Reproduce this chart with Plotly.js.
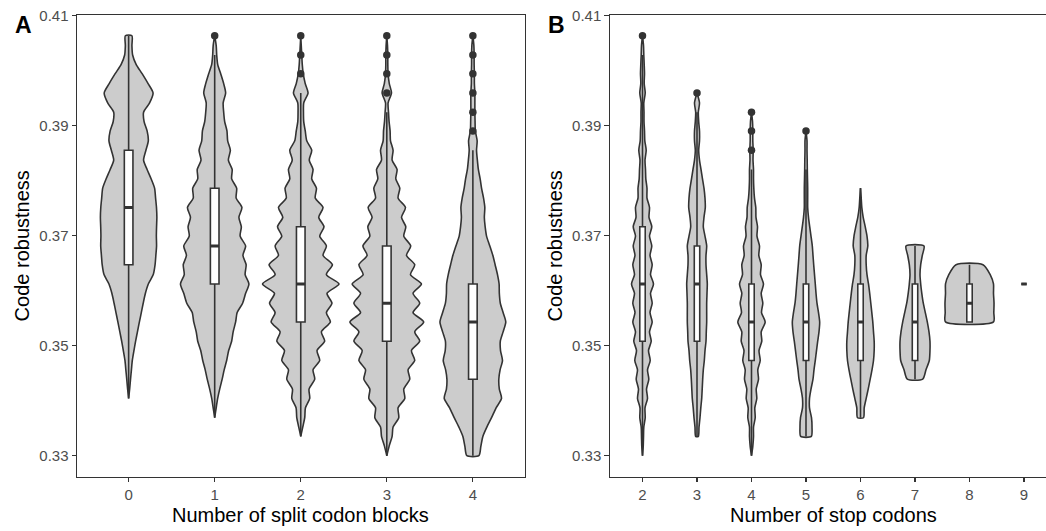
<!DOCTYPE html>
<html><head><meta charset="utf-8">
<script src="https://cdn.plot.ly/plotly-3.0.1.min.js"></script>
<style>html,body{margin:0;padding:0;overflow:hidden;background:#fff;} #chart{width:1060px;height:531px;}</style>
</head><body><div id="chart"></div><script>
// discrete robustness levels (grid values and midpoints), top to bottom
const levels = [0.4063,0.4045,0.4028,0.4011,0.3994,0.3976,0.3959,0.3941,0.3924,0.3907,0.3890,0.3872,0.3855,0.3837,0.3820,0.3803,0.3786,0.3768,0.3751,0.3733,0.3716,0.3699,0.3681,0.3664,0.3647,0.3629,0.3612,0.3595,0.3577,0.3560,0.3543,0.3525,0.3508,0.3491,0.3473,0.3456,0.3439,0.3421,0.3404,0.3387,0.3369,0.3352,0.3335,0.3317,0.3300];

// Panel A: number of split codon blocks
const catsA = [0,1,2,3,4];
const tickTextA = ['0','1','2','3','4'];
const violinTopA = [0.4063,0.4063,0.4063,0.4063,0.4063];
const densA0 = [0.085,0.085,0.103,0.193,0.348,0.502,0.631,0.541,0.386,0.399,0.477,0.508,0.446,0.386,0.477,0.580,0.670,0.696,0.719,0.729,0.721,0.716,0.721,0.703,0.683,0.636,0.508,0.433,0.376,0.327,0.278,0.227,0.180,0.137,0.095,0.072,0.049,0.026,0];
const densA1 = [0,0.039,0.052,0.077,0.155,0.232,0.283,0.219,0.232,0.258,0.317,0.335,0.405,0.353,0.451,0.438,0.567,0.554,0.703,0.626,0.688,0.657,0.799,0.729,0.812,0.786,0.884,0.799,0.721,0.580,0.541,0.477,0.438,0.361,0.309,0.245,0.193,0.129,0.077,0.039,0];
const densA2 = [0,0.013,0.026,0.039,0.064,0.116,0.188,0.077,0.070,0.077,0.116,0.155,0.283,0.219,0.317,0.283,0.405,0.374,0.575,0.464,0.600,0.490,0.662,0.575,0.817,0.662,0.987,0.678,0.806,0.662,0.765,0.533,0.618,0.420,0.490,0.317,0.361,0.214,0.232,0.121,0.103,0.052,0];
const densA3 = [0,0.018,0.026,0.026,0.033,0.064,0.121,0.033,0.044,0.059,0.085,0.095,0.162,0.137,0.265,0.232,0.335,0.291,0.482,0.379,0.490,0.438,0.618,0.508,0.721,0.611,0.894,0.678,0.850,0.678,0.953,0.721,0.850,0.636,0.721,0.549,0.593,0.438,0.464,0.291,0.309,0.162,0.137,0.059,0];
const densA4 = [0,0.026,0.033,0.033,0.039,0.039,0.052,0.052,0.052,0.057,0.064,0.111,0.095,0.116,0.142,0.188,0.224,0.276,0.309,0.296,0.317,0.353,0.438,0.515,0.575,0.636,0.678,0.683,0.709,0.781,0.850,0.781,0.709,0.714,0.765,0.703,0.670,0.683,0.740,0.600,0.482,0.361,0.258,0.206,0.155];
const q1A = [0.3647,0.3612,0.3543,0.3508,0.3439];
const medA = [0.3751,0.3681,0.3612,0.3577,0.3543];
const q3A = [0.3855,0.3786,0.3716,0.3681,0.3612];
const loA = [0.3404,0.3369,0.3335,0.3300,0.3300];
const hiA = [0.4063,0.4028,0.3959,0.3924,0.3855];
const outCatA = [1,2,2,2,3,3,3,3,4,4,4,4,4,4];
const outValA = [0.4063,0.4063,0.4028,0.3994,0.4063,0.4028,0.3994,0.3959,0.4063,0.4028,0.3994,0.3959,0.3924,0.3890];

// Panel B: number of stop codons
const catsB = [2,3,4,5,6,7,8,9];
const tickTextB = ['2','3','4','5','6','7','8','9'];
const violinCatB = [2,3,4,5,6,7,8];
const violinTopB = [0.4063,0.3959,0.3924,0.3890,0.3786,0.3681,0.3647];
const densB2 = [0,0.041,0.053,0.069,0.082,0.069,0.110,0.053,0.061,0.061,0.082,0.094,0.151,0.102,0.122,0.135,0.183,0.183,0.285,0.265,0.379,0.285,0.379,0.306,0.395,0.326,0.448,0.326,0.395,0.306,0.395,0.285,0.355,0.245,0.314,0.204,0.257,0.163,0.204,0.102,0.110,0.053,0.041,0.029,0];
const densB3 = [0,0.102,0.053,0.069,0.102,0.102,0.069,0.102,0.163,0.224,0.285,0.326,0.338,0.285,0.257,0.326,0.395,0.367,0.367,0.395,0.420,0.408,0.395,0.395,0.395,0.379,0.367,0.326,0.298,0.257,0.232,0.212,0.192,0.155,0.122,0.082,0.053];
const densB4 = [0,0.041,0.053,0.053,0.069,0.061,0.082,0.082,0.094,0.122,0.175,0.183,0.245,0.224,0.326,0.298,0.395,0.367,0.489,0.395,0.461,0.408,0.558,0.395,0.420,0.306,0.355,0.257,0.285,0.192,0.216,0.135,0.151,0.082,0.082,0.053,0];
const densB5 = [0,0.041,0.041,0.049,0.053,0.061,0.069,0.069,0.069,0.102,0.151,0.204,0.257,0.285,0.314,0.347,0.379,0.408,0.448,0.510,0.558,0.530,0.477,0.428,0.379,0.326,0.285,0.204,0.143,0.143,0.224,0.245,0.216];
const densB6 = [0,0.029,0.053,0.110,0.192,0.265,0.298,0.232,0.232,0.265,0.326,0.375,0.420,0.461,0.501,0.530,0.558,0.558,0.530,0.469,0.395,0.314,0.232,0.151,0.122];
const densB7 = [0.367,0.298,0.232,0.204,0.232,0.277,0.338,0.420,0.501,0.571,0.611,0.611,0.583,0.448,0.314];
const densB8 = [0.550,0.844,0.978,0.978,1.0,0.991,0.978];
const q1B = [0.3508,0.3508,0.3473,0.3473,0.3473,0.3473,0.3543,0.3612];
const medB = [0.3612,0.3612,0.3543,0.3543,0.3543,0.3543,0.3577,0.3612];
const q3B = [0.3716,0.3681,0.3612,0.3612,0.3612,0.3612,0.3612,0.3612];
const loB = [0.3300,0.3335,0.3300,0.3335,0.3369,0.3439,0.3543,0.3612];
const hiB = [0.4028,0.3924,0.3820,0.3820,0.3786,0.3681,0.3647,0.3612];
const outCatB = [2,3,4,4,4,5];
const outValB = [0.4063,0.3959,0.3924,0.3890,0.3855,0.3890];

const yTickVals = [0.33,0.35,0.37,0.39,0.41];
const yTickText = ['0.33','0.35','0.37','0.39','0.41'];

// styles
const VIOLIN_HALF = 0.45, BOX_W = 0.1;
const DARK = '#333333', FILL = '#cccccc';
const W = 1060, H = 531;
const Y_RANGE = [0.326185, 0.410115];
const XA_RANGE = [-0.6, 4.6], XB_RANGE = [1.4, 9.6];

function violin(xa, ya, cat, top, dens) {
  const i0 = levels.indexOf(top);
  const ys = dens.map((_, j) => levels[i0 + j]);
  const right = dens.map(d => cat + VIOLIN_HALF * d);
  const left = dens.map(d => cat - VIOLIN_HALF * d).reverse();
  const x = right.concat(left); x.push(x[0]);
  const y = ys.concat(ys.slice().reverse()); y.push(y[0]);
  return {type:'scatter', mode:'lines', x:x, y:y, xaxis:xa, yaxis:ya, fill:'toself', fillcolor:FILL,
    line:{color:DARK, width:1.6, shape:'spline', smoothing:0.7}, hoverinfo:'skip', showlegend:false};
}
function boxes(xa, ya, cats, q1, med, q3, lo, hi) {
  return {type:'box', orientation:'v', x:cats, q1:q1, median:med, q3:q3, lowerfence:lo, upperfence:hi, xaxis:xa, yaxis:ya,
    width:BOX_W, whiskerwidth:0, boxpoints:false, fillcolor:'#ffffff', line:{color:DARK, width:1.6},
    hoverinfo:'skip', showlegend:false};
}
function medians(xa, ya, cats, med) {
  const x = [], y = [];
  cats.forEach((c, i) => { x.push(c - BOX_W/2, c + BOX_W/2, null); y.push(med[i], med[i], null); });
  return {type:'scatter', mode:'lines', x:x, y:y, xaxis:xa, yaxis:ya, line:{color:DARK, width:3},
    hoverinfo:'skip', showlegend:false};
}
function outliers(xa, ya, cats, vals) {
  return {type:'scatter', mode:'markers', x:cats, y:vals, xaxis:xa, yaxis:ya,
    marker:{color:DARK, size:7.5}, hoverinfo:'skip', showlegend:false};
}

const densA = [densA0, densA1, densA2, densA3, densA4];
const densB = [densB2, densB3, densB4, densB5, densB6, densB7, densB8];
const traces = [];
catsA.forEach((c, i) => traces.push(violin('x', 'y', c, violinTopA[i], densA[i])));
violinCatB.forEach((c, i) => traces.push(violin('x2', 'y2', c, violinTopB[i], densB[i])));
// boxes, medians and outliers on overlay axes so they sit above the violins
traces.push(boxes('x3', 'y3', catsA, q1A, medA, q3A, loA, hiA));
traces.push(boxes('x4', 'y4', catsB, q1B, medB, q3B, loB, hiB));
traces.push(medians('x3', 'y3', catsA, medA));
traces.push(medians('x4', 'y4', catsB, medB));
traces.push(outliers('x3', 'y3', outCatA, outValA));
traces.push(outliers('x4', 'y4', outCatB, outValB));

const FONT = 'Liberation Sans, Arial, sans-serif';
const tickFont = {family:FONT, size:15, color:'#4d4d4d'};
function xAxis(dom, range, vals, text, anchor) {
  return {domain:dom, range:range, tickvals:vals, ticktext:text, ticks:'outside', ticklen:4.5, tickwidth:1.1,
    tickcolor:DARK, showline:true, mirror:true, linecolor:DARK, linewidth:1, showgrid:false, zeroline:false,
    tickfont:tickFont, anchor:anchor, automargin:false, fixedrange:true};
}
function yAxis(anchor) {
  return {domain:[54.3/H, 516.3/H], range:Y_RANGE, tickvals:yTickVals, ticktext:yTickText,
    ticks:'outside', ticklen:4.5, tickwidth:1.1, tickcolor:DARK, showline:true, mirror:true, linecolor:DARK,
    linewidth:1, showgrid:false, zeroline:false, tickfont:tickFont, anchor:anchor, automargin:false, fixedrange:true};
}
function overlay(base, range, anchor) {
  return {overlaying:base, range:range, visible:false, showgrid:false, zeroline:false, anchor:anchor, fixedrange:true};
}
const titleFont = {family:FONT, size:20, color:'#000000'};
const labelFont = {family:FONT, size:23, color:'#000000'};
const layout = {
  width:W, height:H, margin:{l:0, r:0, t:0, b:0}, paper_bgcolor:'#ffffff', plot_bgcolor:'#ffffff',
  showlegend:false, boxmode:'overlay',
  xaxis: xAxis([77/W, 524.5/W], XA_RANGE, catsA, tickTextA, 'y'),
  yaxis: yAxis('x'),
  xaxis2: xAxis([609.8/W, 1056.7/W], XB_RANGE, catsB, tickTextB, 'y2'),
  yaxis2: yAxis('x2'),
  xaxis3: overlay('x', XA_RANGE, 'y3'),
  yaxis3: overlay('y', Y_RANGE, 'x3'),
  xaxis4: overlay('x2', XB_RANGE, 'y4'),
  yaxis4: overlay('y2', Y_RANGE, 'x4'),
  annotations: [
    {text:'<b>A</b>', x:12.5/W, y:1-25/H, xref:'paper', yref:'paper', xanchor:'left', yanchor:'middle', showarrow:false, font:labelFont},
    {text:'<b>B</b>', x:545.5/W, y:1-25/H, xref:'paper', yref:'paper', xanchor:'left', yanchor:'middle', showarrow:false, font:labelFont},
    {text:'Number of split codon blocks', x:300.75/W, y:1-515/H, xref:'paper', yref:'paper', xanchor:'center', yanchor:'middle', showarrow:false, font:titleFont},
    {text:'Number of stop codons', x:833.25/W, y:1-515/H, xref:'paper', yref:'paper', xanchor:'center', yanchor:'middle', showarrow:false, font:titleFont},
    {text:'Code robustness', x:21.7/W, y:1-245.7/H, xref:'paper', yref:'paper', xanchor:'center', yanchor:'middle', textangle:-90, showarrow:false, font:titleFont},
    {text:'Code robustness', x:554.7/W, y:1-245.7/H, xref:'paper', yref:'paper', xanchor:'center', yanchor:'middle', textangle:-90, showarrow:false, font:titleFont}
  ]
};
Plotly.newPlot('chart', traces, layout, {staticPlot:true, displayModeBar:false});
</script></body></html>
